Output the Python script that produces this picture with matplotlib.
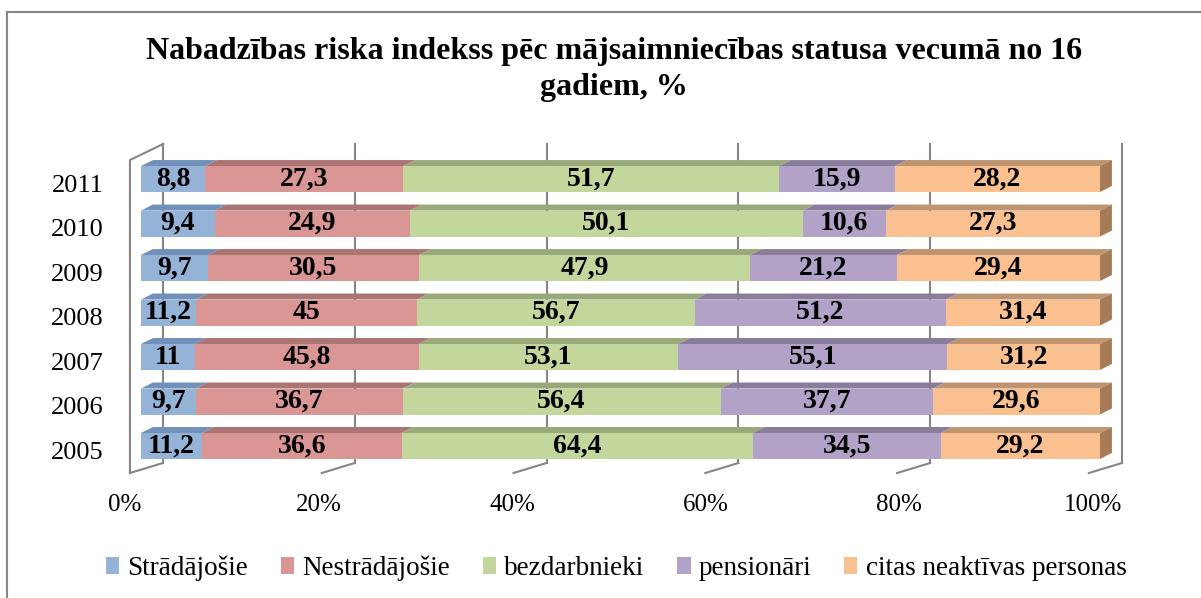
import matplotlib
matplotlib.use("Agg")
import matplotlib.pyplot as plt
from matplotlib.patches import Polygon, Rectangle, Patch
import numpy as np

years = ["2005", "2006", "2007", "2008", "2009", "2010", "2011"]
series = ["Strādājošie", "Nestrādājošie", "bezdarbnieki", "pensionāri",
          "citas neaktīvas personas"]
stradajosie = [11.2, 9.7, 11, 11.2, 9.7, 9.4, 8.8]
nestradajosie = [36.6, 36.7, 45.8, 45, 30.5, 24.9, 27.3]
bezdarbnieki = [64.4, 56.4, 53.1, 56.7, 47.9, 50.1, 51.7]
pensionari = [34.5, 37.7, 55.1, 51.2, 21.2, 10.6, 15.9]
citas = [29.2, 29.6, 31.2, 31.4, 29.4, 27.3, 28.2]

front_colors = ["#95B3D7", "#D99694", "#C3D69B", "#B3A2C7", "#FAC090"]
top_colors = ["#7190BA", "#AA7573", "#9AA97A", "#8A7D9C", "#BF9470"]
side_color = "#A67C58"
wall_color = "#868686"

FONT = "Liberation Serif"

# 3d look, in data units (x in %, y in category rows)
TOP_DX, TOP_DY = 1.25, 0.135
FRONT_DX, BACK_DX = -1.147, 2.294
FLOOR_FRONT_Y, FLOOR_BACK_Y = -0.607, -0.382
WALL_TOP_FRONT, WALL_TOP_BACK = 6.427, 6.787
BAR_H = 0.584


def fmt(v):
    return f"{v:g}".replace(".", ",")


vals = np.array([stradajosie, nestradajosie, bezdarbnieki, pensionari, citas]).T
shares = vals / vals.sum(axis=1, keepdims=True) * 100

fig = plt.figure(figsize=(12.01, 5.98), dpi=100)
ax = fig.add_axes([0.1014, 0.1649, 0.8384, 0.6324])
ax.set_xlim(-2, 103)
ax.set_ylim(-1.2, 7.3)
ax.axis("off")

# back wall grid and floor lines
for p in range(0, 101, 20):
    ax.plot([p + BACK_DX, p + BACK_DX], [FLOOR_BACK_Y, WALL_TOP_BACK],
            color=wall_color, lw=1.5, zorder=1)
    ax.plot([p + FRONT_DX, p + BACK_DX], [FLOOR_FRONT_Y, FLOOR_BACK_Y],
            color=wall_color, lw=1.5, zorder=1)
# left wall
ax.plot([FRONT_DX, FRONT_DX, BACK_DX], [FLOOR_FRONT_Y, WALL_TOP_FRONT, WALL_TOP_BACK],
        color=wall_color, lw=1.5, zorder=1)

for i, row in enumerate(shares):
    left = 0.0
    yb, yt = i - BAR_H / 2, i + BAR_H / 2
    for k, w in enumerate(row):
        ax.barh(i, w, left=left, height=BAR_H, color=front_colors[k],
                edgecolor="none", zorder=3)
        ax.add_patch(Polygon([(left, yt), (left + w, yt),
                              (left + w + TOP_DX, yt + TOP_DY),
                              (left + TOP_DX, yt + TOP_DY)],
                             closed=True, facecolor=top_colors[k],
                             edgecolor="none", zorder=2))
        ax.text(left + w / 2, i, fmt(vals[i, k]), ha="center", va="center",
                fontsize=20, fontweight="bold", family=FONT, zorder=5)
        left += w
    ax.add_patch(Polygon([(left, yb), (left, yt), (left + TOP_DX, yt + TOP_DY),
                          (left + TOP_DX, yb + TOP_DY)], closed=True,
                         facecolor=side_color, edgecolor="none", zorder=2))
    ax.text(-3.9, i - 0.15, years[i], ha="right", va="center",
            fontsize=19, family=FONT)

for p in range(0, 101, 20):
    ax.text(p * 1.0094 - 1.67, -1.326, f"{p}%", ha="center", va="center",
            fontsize=18, family=FONT)

fig.text(0.511, 0.884, "Nabadzības riska indekss pēc mājsaimniecības statusa vecumā no 16\ngadiem, %",
         ha="center", va="center", fontsize=23, fontweight="bold", family=FONT,
         linespacing=1.33)

handles = [Patch(facecolor=c, edgecolor="none") for c in front_colors]
fig.legend(handles, series, loc="center", bbox_to_anchor=(0.513, 0.05), ncol=5,
           frameon=False, prop={"family": FONT, "size": 19.5},
           handlelength=0.5, handleheight=0.6, handletextpad=0.3,
           columnspacing=1.2)

fig.add_artist(Rectangle((7 / 1201, -0.1), 1.2, 1 - 11.5 / 598 + 0.1,
                         transform=fig.transFigure, fill=False,
                         edgecolor=wall_color, lw=1.5))

fig.savefig("out.png", dpi=100)
